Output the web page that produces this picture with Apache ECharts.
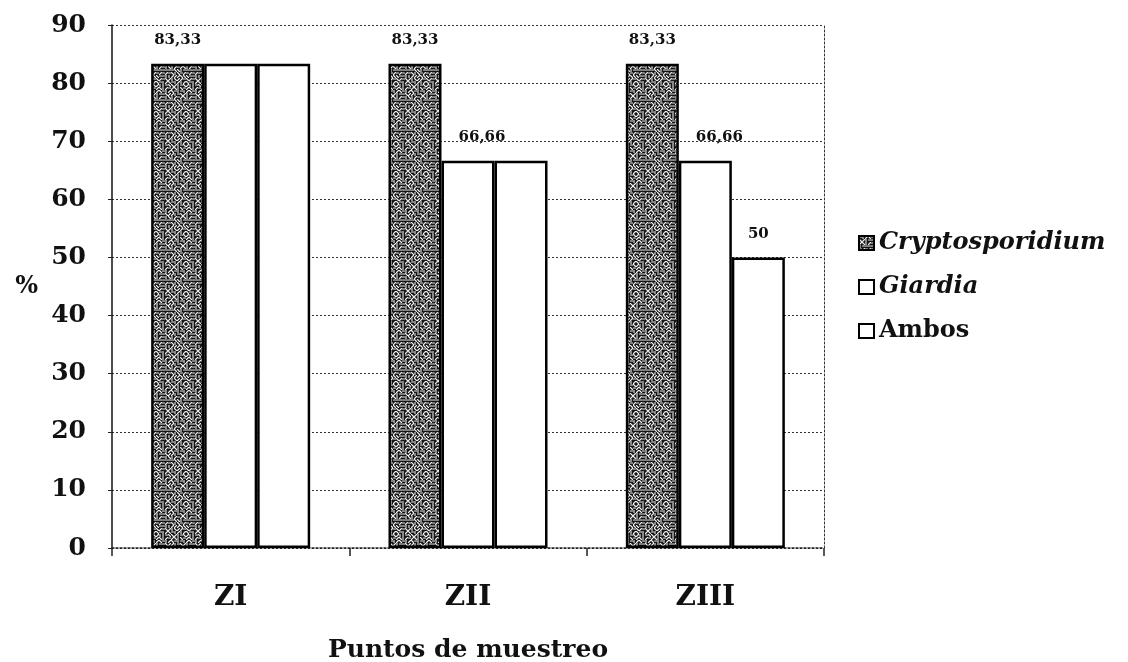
<!DOCTYPE html>
<html>
<head>
<meta charset="utf-8">
<script src="https://cdn.jsdelivr.net/npm/echarts@6/dist/echarts.min.js"></script>
<style>
  html, body { margin: 0; padding: 0; background: #fff; }
  #chart { width: 1128px; height: 662px; }
</style>
</head>
<body>
<div id="chart"></div>
<script>
// Sampling points and prevalence (%) per parasite
const categories = ['ZI', 'ZII', 'ZIII'];
const cryptosporidium = [83.33, 83.33, 83.33];
const giardia = [83.33, 66.66, 66.66];
const ambos = [83.33, 66.66, 50];
// Which bars carry a value label
const cryptoLabeled = [true, true, true];
const giardiaLabeled = [false, true, true];
const ambosLabeled = [false, false, true];

const yTicks = { min: 0, max: 90, interval: 10 };

// Dark maze-like fill, built as a repeating tile
function stippleTile() {
  const n = 30, step = 3;
  const c = document.createElement('canvas');
  c.width = n; c.height = n;
  const g = c.getContext('2d');
  g.fillStyle = '#151515';
  g.fillRect(0, 0, n, n);
  g.strokeStyle = '#f0f0f0';
  g.lineWidth = 1.1;
  g.lineCap = 'round';
  for (let y = 0; y < n; y += step) {
    for (let x = 0; x < n; x += step) {
      const k = (x * 7 + y * 13 + ((x * y) % 7)) % 4;
      g.beginPath();
      if (k === 0) { g.moveTo(x + 0.5, y + 1); g.lineTo(x + 2.5, y + 1); }
      else if (k === 1) { g.moveTo(x + 1, y + 0.5); g.lineTo(x + 1, y + 2.5); }
      else if (k === 2) { g.moveTo(x + 0.5, y + 2.5); g.lineTo(x + 2.5, y + 0.5); }
      else { g.moveTo(x + 0.5, y + 0.5); g.lineTo(x + 2.5, y + 2.5); }
      g.stroke();
    }
  }
  return c;
}

const serif = '"DejaVu Serif", "Liberation Serif", serif';
const comma = v => String(v).replace('.', ',');

function withLabels(values, flags) {
  return values.map((v, i) => ({ value: v, label: { show: flags[i] } }));
}

const labelStyle = {
  position: 'top',
  distance: 16,
  fontFamily: serif,
  fontWeight: 'bold',
  fontSize: 15,
  color: '#111',
  formatter: p => comma(p.value)
};

const barBase = {
  type: 'bar',
  barGap: '0%',
  barCategoryGap: '33%',
  label: labelStyle
};

const chart = echarts.init(document.getElementById('chart'));
chart.setOption({
  backgroundColor: '#fff',
  animation: false,
  grid: { left: 112, right: 304, top: 25, bottom: 114, outerBoundsMode: 'none', containLabel: false },
  legend: {
    orient: 'vertical',
    left: 853,
    top: 226,
    itemWidth: 15,
    itemHeight: 14,
    itemGap: 20,
    icon: 'rect',
    textStyle: {
      fontFamily: serif,
      fontSize: 24,
      fontWeight: 'bold',
      color: '#111',
      rich: {
        it: { fontFamily: serif, fontSize: 24, fontWeight: 'bold', fontStyle: 'italic', color: '#111' },
        rg: { fontFamily: serif, fontSize: 24, fontWeight: 'bold', color: '#111' }
      }
    },
    formatter: name => name === 'Ambos' ? '{rg|' + name + '}' : '{it|' + name + '}'
  },
  xAxis: {
    type: 'category',
    data: categories,
    name: 'Puntos de muestreo',
    nameLocation: 'middle',
    nameGap: 90,
    nameTextStyle: { fontFamily: serif, fontSize: 25, fontWeight: 'bold', color: '#111' },
    axisLine: { lineStyle: { color: '#222', width: 1.5, type: [2, 2] } },
    axisTick: { show: true, length: 8, lineStyle: { color: '#222', width: 1.5 } },
    axisLabel: { margin: 36, fontFamily: serif, fontSize: 28, fontWeight: 'bold', color: '#111' }
  },
  yAxis: [{
    type: 'value',
    min: yTicks.min, max: yTicks.max, interval: yTicks.interval,
    name: '%',
    nameLocation: 'middle',
    nameRotate: 0,
    nameGap: 74,
    nameTextStyle: { fontFamily: serif, fontSize: 24, fontWeight: 'bold', color: '#111' },
    axisLine: { show: true, lineStyle: { color: '#111', width: 1.5 } },
    axisTick: { show: true, length: 4, lineStyle: { color: '#222' } },
    axisLabel: { margin: 26, fontFamily: serif, fontSize: 25, fontWeight: 'bold', color: '#111' },
    splitLine: { show: true, lineStyle: { color: '#333', width: 1, type: [2, 2] } }
  }, {
    type: 'value',
    position: 'right',
    min: yTicks.min, max: yTicks.max, interval: yTicks.interval,
    axisLine: { show: true, lineStyle: { color: '#333', width: 1, type: [2, 2] } },
    axisTick: { show: false },
    axisLabel: { show: false },
    splitLine: { show: false }
  }],
  series: [
    Object.assign({}, barBase, {
      name: 'Cryptosporidium',
      data: withLabels(cryptosporidium, cryptoLabeled),
      itemStyle: { color: { image: stippleTile(), repeat: 'repeat' }, borderColor: '#000', borderWidth: 2.5 }
    }),
    Object.assign({}, barBase, {
      name: 'Giardia',
      data: withLabels(giardia, giardiaLabeled),
      label: Object.assign({}, labelStyle, { offset: [14, 0] }),
      itemStyle: { color: '#fff', borderColor: '#000', borderWidth: 2.5 }
    }),
    Object.assign({}, barBase, {
      name: 'Ambos',
      data: withLabels(ambos, ambosLabeled),
      itemStyle: { color: '#fff', borderColor: '#000', borderWidth: 2.5 }
    })
  ]
});
</script>
</body>
</html>
